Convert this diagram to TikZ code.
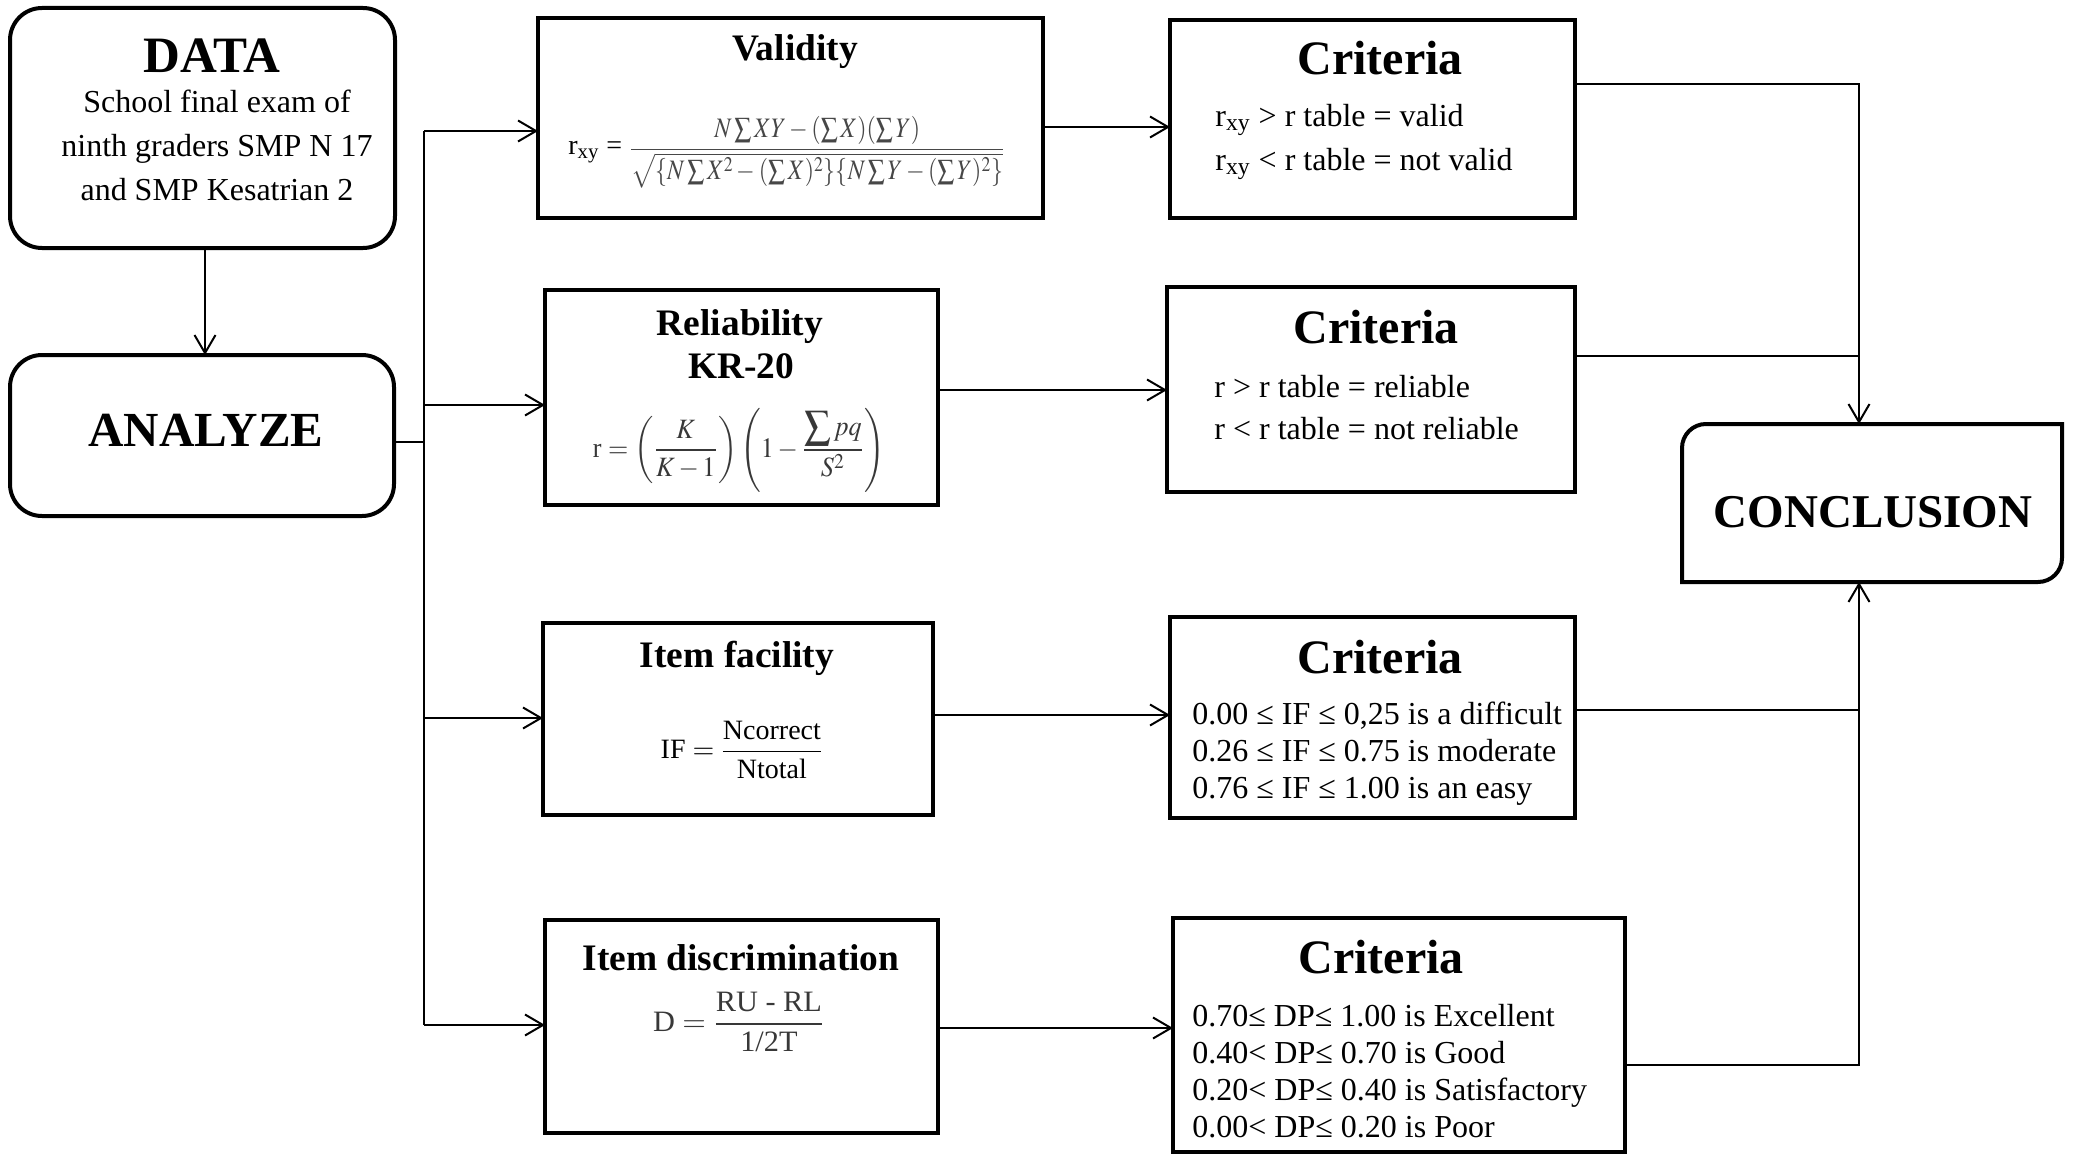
\documentclass[tikz,border=0pt]{standalone}
\usepackage{mathptmx}
\usepackage[no-math]{fontspec}
\setmainfont{Liberation Serif}
\usepackage{graphicx}
\usetikzlibrary{arrows.meta,fit}

\begin{document}
\begin{tikzpicture}[x=0.5pt,y=-0.5pt,
  rbox/.style={draw=black, line width=2pt, inner sep=0pt, outer sep=0pt},
  conn/.style={draw=black, line width=1pt},
  arr/.style={conn, -{Straight Barb[length=9pt,width=10.5pt]}},
  bigttl/.style={inner sep=0pt, font=\fontsize{25pt}{29pt}\selectfont\bfseries},
  critttl/.style={inner sep=0pt, font=\fontsize{24pt}{28pt}\selectfont\bfseries},
  ttl/.style={inner sep=0pt, align=center, font=\fontsize{18.7pt}{19.5pt}\selectfont\bfseries},
  crittext/.style={inner sep=0pt, anchor=west, align=left},
  formula/.style={inner sep=0pt, text=black!78}
]
\useasboundingbox (0,0) rectangle (2073,1156);

% boxes
\node[rbox, rounded corners=16pt, fit={(10,8) (395,248)}] (data) {};
\node[rbox, rounded corners=16pt, fit={(10,355) (394,516)}] (analyze) {};
\node[rbox, fit={(538,18) (1043,218)}] (validity) {};
\node[rbox, fit={(545,290) (938,505)}] (reliab) {};
\node[rbox, fit={(543,623) (933,815)}] (facility) {};
\node[rbox, fit={(545,920) (938,1133)}] (discrim) {};
\node[rbox, fit={(1170,20) (1575,218)}] (crit1) {};
\node[rbox, fit={(1167,287) (1575,492)}] (crit2) {};
\node[rbox, fit={(1170,617) (1575,818)}] (crit3) {};
\node[rbox, fit={(1173,918) (1625,1152)}] (crit4) {};
\node[inner sep=0pt, outer sep=0pt, fit={(1682,424) (2062,582)}] (concl) {};
\draw[line width=2pt] (concl.north east) -- ([xshift=12pt]concl.north west)
  arc[start angle=90, end angle=180, radius=12pt] -- (concl.south west)
  -- ([xshift=-12pt]concl.south east)
  arc[start angle=270, end angle=360, radius=12pt] -- cycle;

% texts
\node[bigttl, font=\fontsize{25.5pt}{29pt}\selectfont\bfseries] (tdata) at (212,56) {DATA};
\node[inner sep=0pt, align=center, font=\fontsize{16pt}{22pt}\selectfont] (tdatab) at (217,145)
  {School final exam of\\ ninth graders SMP N 17\\ and SMP Kesatrian 2};
\node[bigttl, font=\fontsize{24.5pt}{29pt}\selectfont\bfseries] (tanalyze) at (206,430) {ANALYZE};
\node[bigttl, font=\fontsize{23.5pt}{27pt}\selectfont\bfseries] (tconcl) at (1873,512) {CONCLUSION};

\node[ttl] (tval) at (795,52) {Validity};
\node[ttl] (trel) at (740,327) {Reliability};
\node[ttl] (trel2) at (741,366) {KR-20};
\node[ttl] (tfac) at (737,658) {Item facility};
\node[ttl] (tdis) at (741,958) {Item discrimination};

% formulas
\node[inner sep=0pt, anchor=west, font=\fontsize{14pt}{16pt}\selectfont] (fval) at (568,152)
  {r\textsubscript{xy} = \textcolor{black!72}{\raisebox{-1pt}{\resizebox*{188pt}{36pt}{$\displaystyle\frac{N\sum XY-(\sum X)(\sum Y)}{\sqrt{\{N\sum X^{2}-(\sum X)^{2}\}\{N\sum Y-(\sum Y)^{2}\}}}$}}}};
\node[formula] (frel) at (739,450)
  {\resizebox*{146pt}{42pt}{\fontsize{12pt}{14pt}\selectfont r $=\left(\displaystyle\frac{K}{K-1}\right)\left(1-\displaystyle\frac{\displaystyle\sum pq}{S^{2}}\right)$}};
\node[inner sep=0pt, font=\fontsize{14pt}{16pt}\selectfont] (ffac) at (742,750)
  {IF $=\displaystyle\frac{\mbox{Ncorrect}}{\mbox{Ntotal}}$};
\node[formula] (fdis) at (739,1022)
  {\resizebox*{86pt}{30pt}{\fontsize{12pt}{14pt}\selectfont D $=\displaystyle\frac{\mbox{RU - RL}}{\mbox{1/2T}}$}};

\node[critttl] (c1t) at (1380,58) {Criteria};
\node[critttl] (c2t) at (1376,327) {Criteria};
\node[critttl] (c3t) at (1380,657) {Criteria};
\node[critttl] (c4t) at (1381,957) {Criteria};

\node[crittext, font=\fontsize{16pt}{22pt}\selectfont] (c1b) at (1215,142)
  {r\textsubscript{xy} > r table = valid\\ r\textsubscript{xy} < r table = not valid};
\node[crittext, font=\fontsize{16pt}{21pt}\selectfont] (c2b) at (1214,408)
  {r > r table = reliable\\ r < r table = not reliable};
\node[crittext, font=\fontsize{16pt}{18.5pt}\selectfont] (c3b) at (1192,754)
  {0.00 ≤ IF ≤ 0,25 is a difficult\\ 0.26 ≤ IF ≤ 0.75 is moderate\\ 0.76 ≤ IF ≤ 1.00 is an easy};
\node[crittext, font=\fontsize{16pt}{18.4pt}\selectfont] (c4b) at (1192,1071)
  {0.70≤ DP≤ 1.00 is Excellent\\ 0.40< DP≤ 0.70 is Good\\ 0.20< DP≤ 0.40 is Satisfactory\\ 0.00< DP≤ 0.20 is Poor};

% connectors
\coordinate (dA) at (205,0);
\draw[arr] (data.south -| dA) -- (analyze.north -| dA);
\coordinate (tA) at (424,442);
\coordinate (ttop) at (424,131);
\coordinate (t2) at (424,405);
\coordinate (t3) at (424,718);
\coordinate (tbot) at (424,1025);
\draw[conn] (analyze.east |- tA) -- (tA);
\draw[conn] (ttop) -- (tbot);
\draw[arr] (ttop) -- (validity.west |- ttop);
\draw[arr] (t2) -- (reliab.west |- t2);
\draw[arr] (t3) -- (facility.west |- t3);
\draw[arr] (tbot) -- (discrim.west |- tbot);

\coordinate (m1) at (1100,127);
\coordinate (m2) at (1100,390);
\coordinate (m3) at (1100,715);
\coordinate (m4) at (1100,1028);
\draw[arr] (validity.east |- m1) -- (crit1.west |- m1);
\draw[arr] (reliab.east |- m2) -- (crit2.west |- m2);
\draw[arr] (facility.east |- m3) -- (crit3.west |- m3);
\draw[arr] (discrim.east |- m4) -- (crit4.west |- m4);

\coordinate (r1) at (1859,84);
\coordinate (r2) at (1859,356);
\coordinate (r3) at (1859,710);
\coordinate (r4) at (1859,1065);
\draw[arr] (crit1.east |- r1) -- (r1) -- (r1 |- concl.north);
\draw[conn] (crit2.east |- r2) -- (r2);
\draw[conn] (crit3.east |- r3) -- (r3);
\draw[arr] (crit4.east |- r4) -- (r4) -- (r4 |- concl.south);
\end{tikzpicture}
\end{document}
